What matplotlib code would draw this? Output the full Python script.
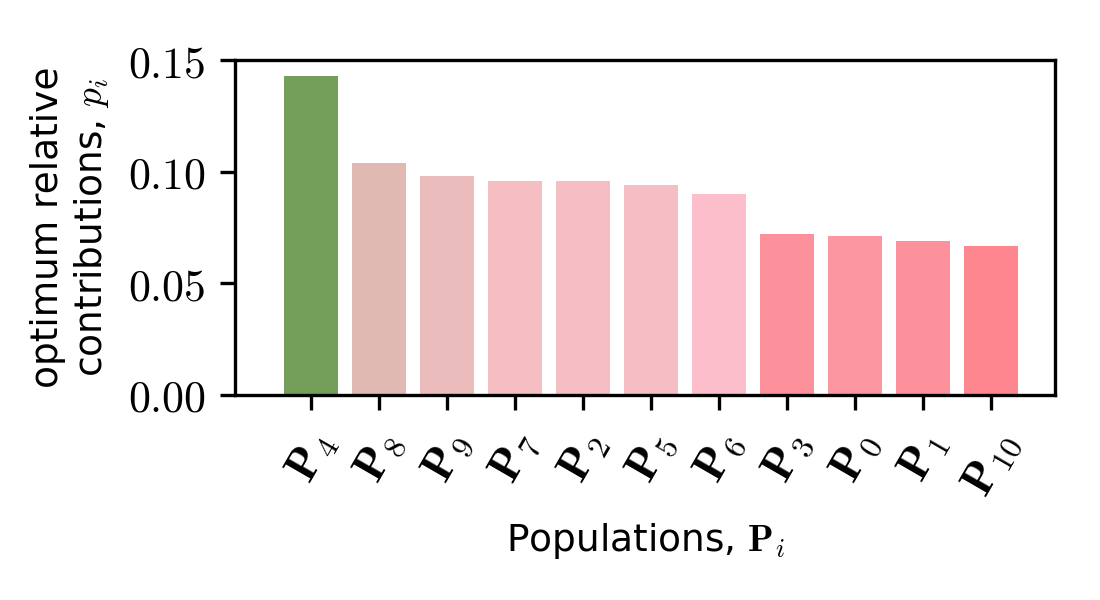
import matplotlib
matplotlib.use("Agg")
import matplotlib.pyplot as plt
from matplotlib.ticker import FormatStrFormatter

plt.rcParams['mathtext.fontset'] = 'cm'

labels = ['4', '8', '9', '7', '2', '5', '6', '3', '0', '1', '10']
values = [0.143, 0.104, 0.098, 0.096, 0.096, 0.094, 0.090, 0.072, 0.071, 0.069, 0.0665]
colors = ['#739f5a', '#e0b9b3', '#ebbcbc', '#f4bec3', '#f5bec5', '#f5bec4', '#fcbecb',
          '#fc919c', '#fc96a0', '#fc909b', '#fe868f']

fig = plt.figure(figsize=(11/3, 2), dpi=300)
ax = fig.add_axes([235/1100, 1-395/600, 820/1100, 335/600])
x = range(len(labels))
ax.bar(x, values, color=colors, width=0.8)
ax.set_xticks(list(x))
ax.set_xticklabels([r'$\mathbf{P}_{%s}$' % l for l in labels], rotation=60, fontsize=11)
ax.set_ylim(0, 0.15)
ax.set_yticks([0, 0.05, 0.10, 0.15])
ax.yaxis.set_major_formatter(FormatStrFormatter('$%.2f$'))
ax.tick_params(axis='y', labelsize=10.5)
ax.set_xlim(-1.12, 10.94)
ax.set_xlabel(r'Populations, $\mathbf{P}_i$', fontsize=9)
ax.set_ylabel('optimum relative\n' + r'contributions, $p_i$', fontsize=9)
fig.savefig('out.png', dpi=300)
